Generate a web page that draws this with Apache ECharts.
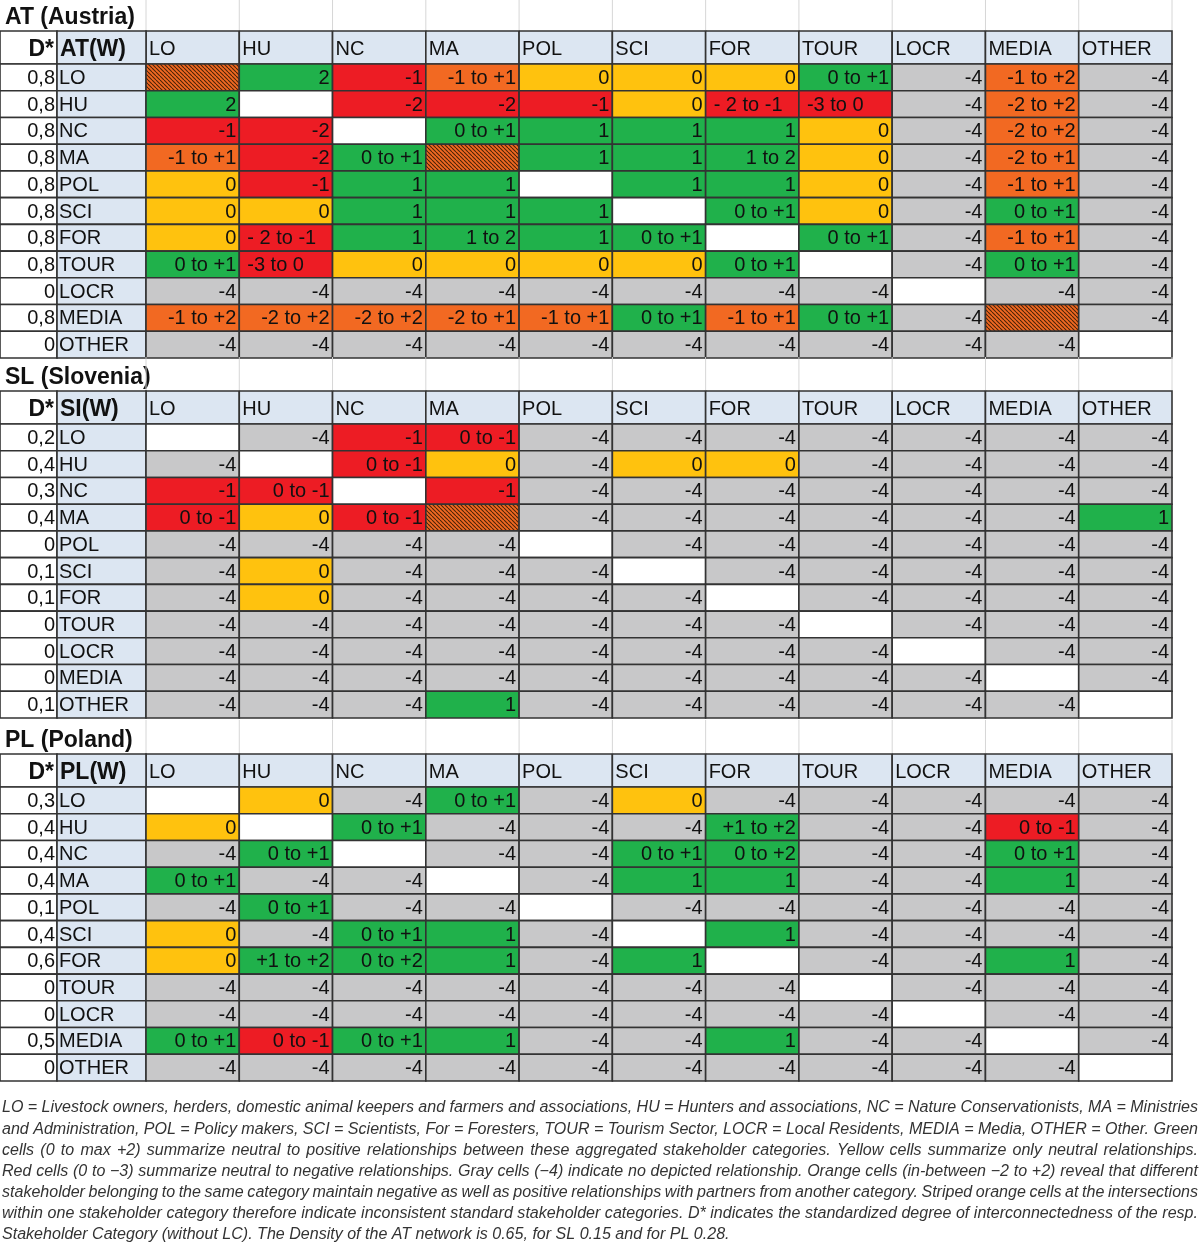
<!DOCTYPE html>
<html>
<head>
<meta charset="utf-8">
<script src="https://cdn.jsdelivr.net/npm/echarts@6/dist/echarts.min.js"></script>
<style>
  html, body { margin: 0; padding: 0; background: #fff; }
  #chart { width: 1200px; height: 1244px; }
</style>
</head>
<body>
<div id="chart"></div>
<script>
// Stakeholder relationship matrices (AT / SL / PL)

const CATS = ['LO', 'HU', 'NC', 'MA', 'POL', 'SCI', 'FOR', 'TOUR', 'LOCR', 'MEDIA', 'OTHER'];
const X = '#'; // striped diagonal cell

const AT_DSTAR = ['0,8', '0,8', '0,8', '0,8', '0,8', '0,8', '0,8', '0,8', '0', '0,8', '0'];
const AT_CELLS = [
  [X, '2', '-1', '-1 to +1', '0', '0', '0', '0 to +1', '-4', '-1 to +2', '-4'],
  ['2', '', '-2', '-2', '-1', '0', '- 2 to -1', '-3 to 0', '-4', '-2 to +2', '-4'],
  ['-1', '-2', '', '0 to +1', '1', '1', '1', '0', '-4', '-2 to +2', '-4'],
  ['-1 to +1', '-2', '0 to +1', X, '1', '1', '1 to 2', '0', '-4', '-2 to +1', '-4'],
  ['0', '-1', '1', '1', '', '1', '1', '0', '-4', '-1 to +1', '-4'],
  ['0', '0', '1', '1', '1', '', '0 to +1', '0', '-4', '0 to +1', '-4'],
  ['0', '- 2 to -1', '1', '1 to 2', '1', '0 to +1', '', '0 to +1', '-4', '-1 to +1', '-4'],
  ['0 to +1', '-3 to 0', '0', '0', '0', '0', '0 to +1', '', '-4', '0 to +1', '-4'],
  ['-4', '-4', '-4', '-4', '-4', '-4', '-4', '-4', '', '-4', '-4'],
  ['-1 to +2', '-2 to +2', '-2 to +2', '-2 to +1', '-1 to +1', '0 to +1', '-1 to +1', '0 to +1', '-4', X, '-4'],
  ['-4', '-4', '-4', '-4', '-4', '-4', '-4', '-4', '-4', '-4', '']
];

const SL_DSTAR = ['0,2', '0,4', '0,3', '0,4', '0', '0,1', '0,1', '0', '0', '0', '0,1'];
const SL_CELLS = [
  ['', '-4', '-1', '0 to -1', '-4', '-4', '-4', '-4', '-4', '-4', '-4'],
  ['-4', '', '0 to -1', '0', '-4', '0', '0', '-4', '-4', '-4', '-4'],
  ['-1', '0 to -1', '', '-1', '-4', '-4', '-4', '-4', '-4', '-4', '-4'],
  ['0 to -1', '0', '0 to -1', X, '-4', '-4', '-4', '-4', '-4', '-4', '1'],
  ['-4', '-4', '-4', '-4', '', '-4', '-4', '-4', '-4', '-4', '-4'],
  ['-4', '0', '-4', '-4', '-4', '', '-4', '-4', '-4', '-4', '-4'],
  ['-4', '0', '-4', '-4', '-4', '-4', '', '-4', '-4', '-4', '-4'],
  ['-4', '-4', '-4', '-4', '-4', '-4', '-4', '', '-4', '-4', '-4'],
  ['-4', '-4', '-4', '-4', '-4', '-4', '-4', '-4', '', '-4', '-4'],
  ['-4', '-4', '-4', '-4', '-4', '-4', '-4', '-4', '-4', '', '-4'],
  ['-4', '-4', '-4', '1', '-4', '-4', '-4', '-4', '-4', '-4', '']
];

const PL_DSTAR = ['0,3', '0,4', '0,4', '0,4', '0,1', '0,4', '0,6', '0', '0', '0,5', '0'];
const PL_CELLS = [
  ['', '0', '-4', '0 to +1', '-4', '0', '-4', '-4', '-4', '-4', '-4'],
  ['0', '', '0 to +1', '-4', '-4', '-4', '+1 to +2', '-4', '-4', '0 to -1', '-4'],
  ['-4', '0 to +1', '', '-4', '-4', '0 to +1', '0 to +2', '-4', '-4', '0 to +1', '-4'],
  ['0 to +1', '-4', '-4', '', '-4', '1', '1', '-4', '-4', '1', '-4'],
  ['-4', '0 to +1', '-4', '-4', '', '-4', '-4', '-4', '-4', '-4', '-4'],
  ['0', '-4', '0 to +1', '1', '-4', '', '1', '-4', '-4', '-4', '-4'],
  ['0', '+1 to +2', '0 to +2', '1', '-4', '1', '', '-4', '-4', '1', '-4'],
  ['-4', '-4', '-4', '-4', '-4', '-4', '-4', '', '-4', '-4', '-4'],
  ['-4', '-4', '-4', '-4', '-4', '-4', '-4', '-4', '', '-4', '-4'],
  ['0 to +1', '0 to -1', '0 to +1', '1', '-4', '-4', '1', '-4', '-4', '', '-4'],
  ['-4', '-4', '-4', '-4', '-4', '-4', '-4', '-4', '-4', '-4', '']
];

const TABLES = [
  { title: 'AT (Austria)', corner: 'AT(W)', dstar: AT_DSTAR, cells: AT_CELLS, top: 64, first: true },
  { title: 'SL (Slovenia)', corner: 'SI(W)', dstar: SL_DSTAR, cells: SL_CELLS, top: 424 },
  { title: 'PL (Poland)', corner: 'PL(W)', dstar: PL_DSTAR, cells: PL_CELLS, top: 787 }
];

const CAPTION = [
  'LO = Livestock owners, herders, domestic animal keepers and farmers and associations, HU = Hunters and associations, NC = Nature Conservationists, MA = Ministries',
  'and Administration, POL = Policy makers, SCI = Scientists, For = Foresters, TOUR = Tourism Sector, LOCR = Local Residents, MEDIA = Media, OTHER = Other. Green',
  'cells (0 to max +2) summarize neutral to positive relationships between these aggregated stakeholder categories. Yellow cells summarize only neutral relationships.',
  'Red cells (0 to \u22123) summarize neutral to negative relationships. Gray cells (\u22124) indicate no depicted relationship. Orange cells (in-between \u22122 to +2) reveal that different',
  'stakeholder belonging to the same category maintain negative as well as positive relationships with partners from another category. Striped orange cells at the intersections',
  'within one stakeholder category therefore indicate inconsistent standard stakeholder categories. D* indicates the standardized degree of interconnectedness of the resp.',
  'Stakeholder Category (without LC). The Density of the AT network is 0.65, for SL 0.15 and for PL 0.28.'
];

const LEFT_TEXT = ['-3 to 0', '- 2 to -1'];

const COL = {
  green: '#20b14b',
  red: '#ed1c24',
  orange: '#f26922',
  yellow: '#ffc20e',
  gray: '#c8c8c9',
  head: '#dce6f2',
  border: '#333333',
  text: '#111111'
};
const FONT = 'Liberation Sans, Arial, sans-serif';
const HDR_H = 33, TITLE_H = 34, LAB_W = 89, D_W = 57;

// striped orange pattern
const stripe = (function () {
  const c = document.createElement('canvas');
  c.width = c.height = 4;
  const g = c.getContext('2d');
  g.fillStyle = COL.orange;
  g.fillRect(0, 0, 4, 4);
  g.strokeStyle = '#4a2408';
  g.lineWidth = 1.1;
  for (let k = -1; k <= 1; k++) {
    g.beginPath();
    g.moveTo(k * 4, 0);
    g.lineTo(k * 4 + 4, 4);
    g.stroke();
  }
  return { image: c, repeat: 'repeat' };
})();

function cellColor(t) {
  if (t === '') return '#fff';
  if (t === X) return stripe;
  if (t === '-4') return COL.gray;
  const nums = t.replace(/- /g, '-').split(' to ').map(Number);
  const lo = Math.min(...nums), hi = Math.max(...nums);
  if (lo < 0 && hi > 0) return COL.orange;
  if (hi > 0) return COL.green;
  if (lo < 0) return COL.red;
  return COL.yellow;
}

function buildItems(tb) {
  const items = [];
  CATS.forEach((c, i) => items.push({ kind: 'hdr', col: i, row: 0, text: c }));
  items.push({ kind: 'hdrD', col: 0, row: 0, text: 'D*' });
  items.push({ kind: 'hdrLab', col: 0, row: 0, text: tb.corner });
  CATS.forEach((c, r) => {
    items.push({ kind: 'd', col: 0, row: r, text: tb.dstar[r] });
    items.push({ kind: 'lab', col: 0, row: r, text: c });
    tb.cells[r].forEach((v, ci) => items.push({ kind: 'cell', col: ci, row: r, text: v }));
  });
  return items;
}

function txt(text, x, y, align, bold) {
  return {
    type: 'text',
    style: {
      text: text, x: x, y: y, align: align, verticalAlign: 'middle',
      font: (bold ? 'bold 23px ' : '20px ') + FONT,
      fill: COL.text
    }
  };
}

function rect(x, y, w, h, fill) {
  return {
    type: 'rect',
    shape: { x: x, y: y, width: w, height: h },
    style: { fill: fill, stroke: COL.border, lineWidth: 1.6 }
  };
}

function makeRender(items, tb) {
  return function (params, api) {
    const it = items[params.dataIndex];
    const p = api.coord([it.col, it.row]);
    const s = api.size([1, 1]);
    const w = s[0], h = s[1];
    const x = p[0] - w / 2, y = p[1] - h / 2;
    const kids = [];
    if (it.kind === 'hdr') {
      const ty = y - HDR_H;
      const light = { stroke: '#d6d6d6', lineWidth: 1 };
      kids.push({ type: 'line', shape: { x1: x, y1: ty - TITLE_H, x2: x, y2: ty }, style: light });
      if (it.col === CATS.length - 1) {
        kids.push({ type: 'line', shape: { x1: x + w, y1: ty - TITLE_H, x2: x + w, y2: ty }, style: light });
      }
      if (tb.first) {
        kids.push({ type: 'line', shape: { x1: x, y1: ty - TITLE_H + 2, x2: x + w, y2: ty - TITLE_H + 2 }, style: light });
      }
      kids.push(rect(x, ty, w, HDR_H, COL.head));
      kids.push(txt(it.text, x + 3, ty + HDR_H / 2 + 2, 'left'));
    } else if (it.kind === 'hdrD') {
      const ty = y - HDR_H;
      const lx = x - LAB_W - D_W;
      kids.push(rect(lx, ty, D_W, HDR_H, '#fff'));
      kids.push(txt(it.text, lx + D_W - 3, ty + HDR_H / 2 + 2, 'right', true));
    } else if (it.kind === 'hdrLab') {
      const ty = y - HDR_H;
      const lx = x - LAB_W;
      kids.push(rect(lx, ty, LAB_W, HDR_H, COL.head));
      kids.push(txt(it.text, lx + 3, ty + HDR_H / 2 + 2, 'left', true));
    } else if (it.kind === 'd') {
      const lx = x - LAB_W - D_W;
      kids.push(rect(lx, y, D_W, h, '#fff'));
      kids.push(txt(it.text, lx + D_W - 2, y + h / 2 + 1, 'right'));
    } else if (it.kind === 'lab') {
      const lx = x - LAB_W;
      kids.push(rect(lx, y, LAB_W, h, COL.head));
      kids.push(txt(it.text, lx + 2, y + h / 2 + 1, 'left'));
    } else {
      kids.push(rect(x, y, w, h, cellColor(it.text)));
      if (it.text && it.text !== X) {
        if (LEFT_TEXT.indexOf(it.text) >= 0) {
          kids.push(txt(it.text, x + 8, y + h / 2 + 1, 'left'));
        } else {
          kids.push(txt(it.text, x + w - 3, y + h / 2 + 1, 'right'));
        }
      }
    }
    return { type: 'group', children: kids };
  };
}

function captionGraphics() {
  const ctx = document.createElement('canvas').getContext('2d');
  const fam = 'Liberation Sans, Arial, sans-serif';
  // fit the last (unjustified) line to its width in the reference
  ctx.font = 'italic 15px ' + fam;
  const natural = ctx.measureText(CAPTION[CAPTION.length - 1]).width;
  const size = Math.max(13, Math.min(17, 15 * 728 / natural));
  const font = 'italic ' + size.toFixed(2) + 'px ' + fam;
  ctx.font = font;
  const left = 2, right = 1198, y0 = 1108, step = 21.15;
  const els = [];
  CAPTION.forEach((line, i) => {
    const words = line.split(' ');
    const widths = words.map(wd => ctx.measureText(wd).width);
    const total = widths.reduce((a, b) => a + b, 0);
    const last = i === CAPTION.length - 1;
    const gap = last ? ctx.measureText(' ').width : (right - left - total) / (words.length - 1);
    let x = left;
    words.forEach((wd, j) => {
      els.push({
        type: 'text', x: x, y: y0 + i * step, silent: true,
        style: { text: wd, font: font, fill: '#333', verticalAlign: 'middle', textVerticalAlign: 'middle' }
      });
      x += widths[j] + gap;
    });
  });
  return els;
}

const chart = echarts.init(document.getElementById('chart'), null, { renderer: 'canvas' });

const grids = [], xAxes = [], yAxes = [], series = [], graphics = [];
TABLES.forEach((tb, i) => {
  grids.push({ left: 146, top: tb.top, width: 1026, height: 294 });
  xAxes.push({ type: 'category', gridIndex: i, data: CATS, show: false });
  yAxes.push({ type: 'category', gridIndex: i, data: CATS, inverse: true, show: false });
  const items = buildItems(tb);
  series.push({
    type: 'custom',
    xAxisIndex: i,
    yAxisIndex: i,
    clip: false,
    silent: true,
    data: items.map(it => [it.col, it.row]),
    renderItem: makeRender(items, tb)
  });
  graphics.push({
    type: 'text', x: 5, y: tb.top - HDR_H - 13, silent: true,
    style: { text: tb.title, font: 'bold 23px ' + FONT, fill: '#111', verticalAlign: 'middle', textVerticalAlign: 'middle' }
  });
});

chart.setOption({
  animation: false,
  grid: grids,
  xAxis: xAxes,
  yAxis: yAxes,
  series: series,
  graphic: graphics.concat(captionGraphics())
});
</script>
</body>
</html>
